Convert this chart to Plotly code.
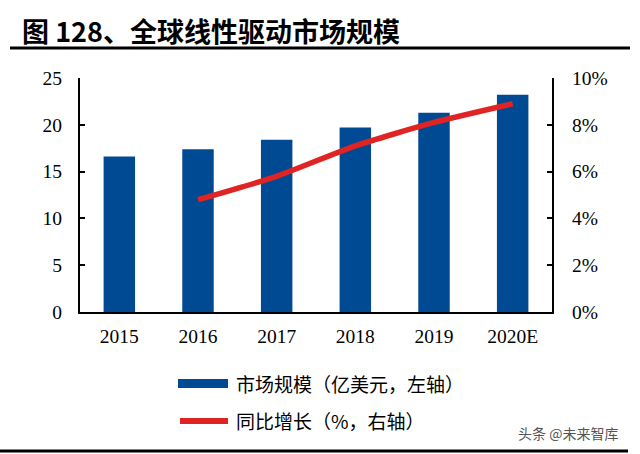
import plotly.graph_objects as go

categories = ["2015", "2016", "2017", "2018", "2019", "2020E"]
market_size = [16.6, 17.4, 18.4, 19.7, 21.3, 23.2]
growth_years = ["2016", "2017", "2018", "2019", "2020E"]
growth_pct = [4.8, 5.8, 7.1, 8.1, 8.9]
left_ticks = [0, 5, 10, 15, 20, 25]
right_ticks = [0, 2, 4, 6, 8, 10]
right_tick_labels = ["0%", "2%", "4%", "6%", "8%", "10%"]

W, H = 640, 454
L, R, T, B = 80, 552, 78, 312

def px(x):
    return (x - L) / (R - L)

def py(y):
    return (B - y) / (B - T)

serif = "Liberation Serif, Times New Roman, serif"
cjk = "Noto Sans CJK SC"

fig = go.Figure()
fig.add_trace(go.Bar(x=categories, y=market_size, marker_color="#004A93",
                     marker_line_width=0, width=0.4, name="市场规模（亿美元，左轴）",
                     showlegend=False))
fig.add_trace(go.Scatter(x=growth_years, y=growth_pct, yaxis="y2", mode="lines",
                         line=dict(color="#E02424", width=5.5, shape="spline", smoothing=0.6),
                         name="同比增长（%，右轴）", showlegend=False))

fig.update_layout(
    width=W, height=H,
    margin=dict(l=L, r=W - R, t=T, b=H - B, pad=0, autoexpand=False),
    paper_bgcolor="white", plot_bgcolor="white",
    xaxis=dict(type="category", showline=True, linecolor="black", linewidth=2,
               ticks="", tickfont=dict(family=serif, size=19.5, color="black"),
               showgrid=False, zeroline=False, fixedrange=True, automargin=False,
               ticklabelstandoff=6),
    yaxis=dict(range=[0, 25], tickvals=left_ticks, showline=True, linecolor="black",
               linewidth=2, ticks="inside", ticklen=5, tickwidth=2, tickcolor="black",
               tickfont=dict(family=serif, size=19.5, color="black"),
               showgrid=False, zeroline=False, ticklabelstandoff=12, automargin=False),
    yaxis2=dict(range=[0, 10], tickvals=right_ticks, ticktext=right_tick_labels,
                overlaying="y", side="right", showline=True, linecolor="black",
                linewidth=2, ticks="inside", ticklen=5, tickwidth=2, tickcolor="black",
                tickfont=dict(family=serif, size=19.5, color="black"),
                showgrid=False, zeroline=False, ticklabelstandoff=14, automargin=False),
    bargap=0.6,
)

shapes = [
    dict(type="line", xref="paper", yref="paper", x0=px(10), x1=px(630), y0=py(48), y1=py(48),
         line=dict(color="black", width=3)),
    dict(type="line", xref="paper", yref="paper", x0=px(0), x1=px(628), y0=py(451), y1=py(451),
         line=dict(color="black", width=3)),
    dict(type="rect", xref="paper", yref="paper", x0=px(178), x1=px(228), y0=py(388), y1=py(379),
         fillcolor="#004A93", line=dict(width=0)),
    dict(type="line", xref="paper", yref="paper", x0=px(180), x1=px(228), y0=py(421), y1=py(421),
         line=dict(color="#E02424", width=6)),
]

annotations = [
    dict(text="<b>图 128、全球线性驱动市场规模</b>", xref="paper", yref="paper",
         x=px(20), y=py(30), xanchor="left", yanchor="middle", showarrow=False,
         font=dict(family=cjk, size=27, color="black")),
    dict(text="市场规模（亿美元，左轴）", xref="paper", yref="paper",
         x=px(234), y=py(383), xanchor="left", yanchor="middle", showarrow=False,
         font=dict(family=cjk, size=19, color="black")),
    dict(text="同比增长（%，右轴）", xref="paper", yref="paper",
         x=px(234), y=py(420), xanchor="left", yanchor="middle", showarrow=False,
         font=dict(family=cjk, size=19, color="black")),
    dict(text="头条 @未来智库", xref="paper", yref="paper",
         x=px(620), y=py(433), xanchor="right", yanchor="middle", showarrow=False,
         font=dict(family=cjk, size=14, color="#555555")),
]
fig.update_layout(shapes=shapes, annotations=annotations)

fig.write_html("out.html", config={"displayModeBar": False},
               post_script="document.body.style.margin='0';document.body.style.padding='0';")
